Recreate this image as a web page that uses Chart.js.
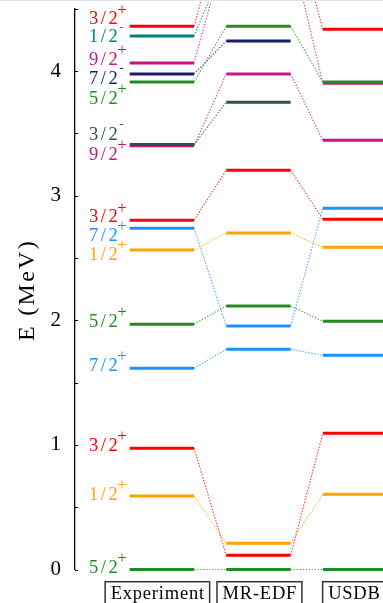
<!DOCTYPE html>
<html>
<head>
<meta charset="utf-8">
<script src="https://cdn.jsdelivr.net/npm/chart.js@4/dist/chart.umd.min.js"></script>
<style>
  html, body { margin: 0; padding: 0; background: #fff; }
  body { width: 383px; height: 603px; overflow: hidden; position: relative; }
  #edge { position: absolute; left: 0; top: 0; width: 383px; height: 1px; background: #dbe4ee; }
  canvas { position: absolute; left: 0; top: 0; }
</style>
</head>
<body>
<canvas id="levels" width="383" height="603"></canvas>
<div id="edge"></div>
<script>
// Spectrum columns and the states shown in each (energies in MeV, null = not computed)
const columns  = ['Experiment', 'MR-EDF', 'USDB'];
const spins    = ['5/2', '1/2', '3/2', '7/2', '5/2', '1/2', '7/2', '3/2', '9/2', '3/2', '5/2', '7/2', '9/2', '1/2', '3/2'];
const parities = ['+',   '+',   '+',   '+',   '+',   '+',   '+',   '+',   '+',   '-',   '+',   '-',   '+',   '-',   '+'];
const expE     = [0, 0.590, 0.973, 1.615, 1.968, 2.564, 2.738, 2.803, 3.400, 3.410, 3.912, 3.977, 4.065, 4.280, 4.360];
const mredfE   = [0, 0.210, 0.114, 1.767, 2.115, 2.700, 1.954, 3.204, 3.977, 3.750, 4.360, 4.240, 5.000, 4.900, 5.300];
const usdbE    = [0, 0.603, 1.093, 1.719, 1.992, 2.586, 2.899, 2.810, 3.445, null,  3.912, null,  3.901, null,  4.336];
const yTicks   = [0, 1, 2, 3, 4];
const yMinor   = [0, 0.5, 1, 1.5, 2, 2.5, 3, 3.5, 4, 4.5];

// Styling
const stateColor = {
  '5/2+': '#228b22', '1/2+': '#ffa500', '3/2+': '#ff0000', '7/2+': '#1e90ff',
  '9/2+': '#c71585', '3/2-': '#2f4f4f', '7/2-': '#191970', '1/2-': '#008080'
};
// vertical nudges (px) that keep the spin labels of close levels apart
const labelShift = [-3, -2.5, -4, -4, -4, 3.5, 6, -4, 8, -11, 16, 4, -4.5, 0, -8];
const columnLabelShift = [-4.5, 1, -1];
const SERIF = '"Liberation Serif", "Times New Roman", serif';
const HALF = 1 / 3;            // half width of a level bar, in column units

function rgba(hex, a) {
  const n = parseInt(hex.slice(1), 16);
  return `rgba(${n >> 16},${(n >> 8) & 255},${n & 255},${a})`;
}

const energies = [expE, mredfE, usdbE];
const datasets = [];
const clip = { left: 2, top: 7, right: 10, bottom: 4 };

// dotted links between the same state in neighbouring columns
for (let c = 0; c < energies.length - 1; c++) {
  for (let i = 0; i < spins.length; i++) {
    const a = energies[c][i], b = energies[c + 1][i];
    if (a == null || b == null) continue;
    const col = stateColor[spins[i] + parities[i]];
    datasets.push({
      data: [{ x: c + HALF, y: a }, { x: c + 1 - HALF, y: b }],
      borderColor: rgba(col, 0.75), borderWidth: 1.2, borderDash: [1.4, 1.6],
      pointRadius: 0, order: 1000, clip
    });
  }
}
// level bars; higher levels are painted over lower ones
for (let c = 0; c < energies.length; c++) {
  for (let i = 0; i < spins.length; i++) {
    const e = energies[c][i];
    if (e == null) continue;
    datasets.push({
      data: [{ x: c - HALF, y: e }, { x: c + HALF, y: e }],
      borderColor: stateColor[spins[i] + parities[i]], borderWidth: 3,
      borderCapStyle: 'butt', pointRadius: 0, order: -Math.round(e * 1000), clip
    });
  }
}

const decorations = {
  id: 'decorations',
  afterDraw(chart) {
    const { ctx, scales: { x, y } } = chart;
    const axisX = chart.chartArea.left;
    ctx.save();

    // inward tick marks
    ctx.strokeStyle = '#000';
    ctx.lineWidth = 1;
    for (const v of yMinor) {
      const py = Math.round(y.getPixelForValue(v)) + 0.5;
      ctx.beginPath();
      ctx.moveTo(axisX, py);
      ctx.lineTo(axisX + 3, py);
      ctx.stroke();
    }

    // axis title
    ctx.save();
    ctx.translate(33.5, 290);
    ctx.rotate(-Math.PI / 2);
    ctx.font = `24px ${SERIF}`;
    ctx.letterSpacing = '2.3px';
    ctx.textAlign = 'center';
    ctx.textBaseline = 'alphabetic';
    ctx.fillStyle = '#000';
    ctx.fillText('E (MeV)', 0, 0);
    ctx.restore();

    // spin-parity labels next to the measured levels
    const rightEdge = x.getPixelForValue(-HALF) - 12;
    for (let i = 0; i < spins.length; i++) {
      const col = stateColor[spins[i] + parities[i]];
      const cy = y.getPixelForValue(expE[i]) + labelShift[i];
      ctx.fillStyle = col;
      ctx.font = `18.5px ${SERIF}`;
      ctx.letterSpacing = '2.5px';
      ctx.textAlign = 'right';
      ctx.textBaseline = 'alphabetic';
      ctx.fillText(spins[i], rightEdge + 2.5, cy + 6.3);
      ctx.letterSpacing = '0px';
      ctx.textAlign = 'left';
      if (parities[i] === '+') {
        ctx.font = `17px ${SERIF}`;
        ctx.fillText('+', rightEdge - 0.5, cy - 3.6);
      } else {
        ctx.font = `13px ${SERIF}`;
        ctx.fillText('-', rightEdge + 1.5, cy - 5.5);
      }
    }

    // boxed column names
    ctx.font = `18.5px ${SERIF}`;
    ctx.letterSpacing = '0.8px';
    ctx.textAlign = 'left';
    ctx.textBaseline = 'alphabetic';
    for (let c = 0; c < columns.length; c++) {
      const w = ctx.measureText(columns[c]).width - 0.8;
      const cx = x.getPixelForValue(c) + columnLabelShift[c];
      const left = cx - w / 2;
      ctx.fillStyle = '#000';
      ctx.fillText(columns[c], left, 599);
      ctx.strokeStyle = '#333';
      ctx.lineWidth = 1.5;
      ctx.strokeRect(left - 5.5, 581.7, w + 11, 30);
    }
    ctx.restore();
  }
};

new Chart(document.getElementById('levels'), {
  type: 'line',
  data: { datasets },
  options: {
    responsive: false,
    devicePixelRatio: 1,
    animation: false,
    events: [],
    layout: { padding: { top: 8.7, bottom: 33.5, left: 0, right: 0 } },
    plugins: { legend: { display: false }, tooltip: { enabled: false } },
    scales: {
      x: { type: 'linear', display: false, min: -0.9, max: 2.29 },
      y: {
        type: 'linear', min: 0, max: 4.5,
        afterBuildTicks: s => { s.ticks = yTicks.map(v => ({ value: v })); },
        afterFit: s => { s.width = 75; s.paddingTop = 0; s.paddingBottom = 0; },
        ticks: { font: { family: SERIF, size: 21 }, color: '#000', padding: 14 },
        grid: { display: false, drawTicks: false },
        border: { display: true, color: '#000', width: 1.3 }
      }
    }
  },
  plugins: [decorations]
});
</script>
</body>
</html>
